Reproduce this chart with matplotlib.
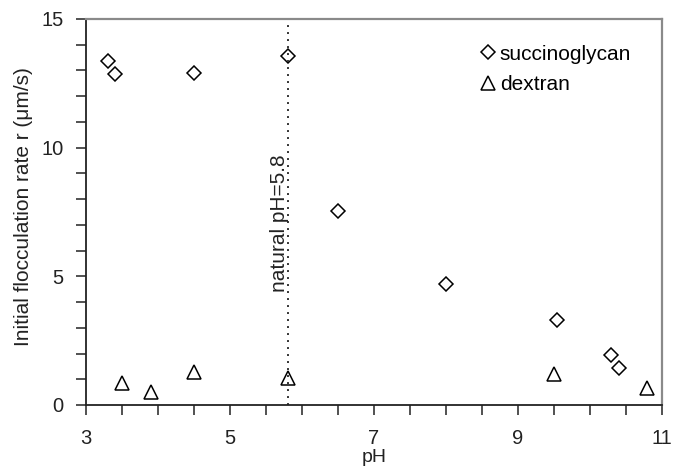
import matplotlib
matplotlib.use('Agg')
import matplotlib.pyplot as plt
from matplotlib.ticker import FixedLocator, MultipleLocator

plt.rcParams['font.family'] = ['Liberation Sans', 'DejaVu Sans']

# succinoglycan (diamonds)
ph_succ = [3.3, 3.4, 4.5, 5.8, 6.5, 8.0, 9.55, 10.3, 10.4]
r_succ = [13.35, 12.85, 12.9, 13.55, 7.55, 4.7, 3.3, 1.95, 1.45]

# dextran (triangles)
ph_dex = [3.5, 3.9, 4.5, 5.8, 9.5, 10.8]
r_dex = [0.85, 0.52, 1.3, 1.06, 1.19, 0.65]

natural_ph = 5.8
x_ticks = [3, 5, 7, 9, 11]
y_ticks = [0, 5, 10, 15]

fig, ax = plt.subplots(figsize=(6.74, 4.70), dpi=100)
fig.subplots_adjust(left=0.1276, right=0.982, top=0.9596, bottom=0.1383)

ax.plot(ph_succ, r_succ, linestyle='none', marker='D', markersize=7,
        markerfacecolor='white', markeredgecolor='black', markeredgewidth=1.1,
        label='succinoglycan', clip_on=False)
ax.plot(ph_dex, r_dex, linestyle='none', marker='^', markersize=10,
        markerfacecolor='white', markeredgecolor='black', markeredgewidth=1.1,
        label='dextran', clip_on=False)

ax.axvline(natural_ph, color='#333333', linestyle=(0, (1, 2.6)), linewidth=1.4)
ax.text(natural_ph - 0.035, 7.05, 'natural pH=5.8', rotation=90,
        rotation_mode='anchor', ha='center', va='baseline', fontsize=15,
        color='#222222')

ax.set_xlim(3, 11)
ax.set_ylim(0, 15)
ax.xaxis.set_major_locator(FixedLocator(x_ticks))
ax.xaxis.set_minor_locator(MultipleLocator(0.5))
ax.yaxis.set_major_locator(FixedLocator(y_ticks))
ax.yaxis.set_minor_locator(MultipleLocator(1))
ax.tick_params(which='both', direction='out', length=7, width=1.1,
               labelsize=14.5, colors='#222222')
ax.tick_params(axis='x', which='major', pad=10)
ax.tick_params(axis='y', which='major', pad=9)
ax.tick_params(top=False, right=False, which='both')

for side in ['left', 'bottom']:
    ax.spines[side].set_linewidth(1.3)
    ax.spines[side].set_color('#222222')
for side in ['top', 'right']:
    ax.spines[side].set_linewidth(1.6)
    ax.spines[side].set_color('#8a8a8a')

ax.set_xlabel('pH', fontsize=14, color='#222222')
ax.set_ylabel('Initial flocculation rate r (\u03bcm/s)', fontsize=15,
              color='#222222')
ax.xaxis.set_label_coords(0.5, -0.1135)
ax.yaxis.set_label_coords(-0.092, 0.515)

ax.legend(loc='upper left', frameon=False, fontsize=15, handletextpad=0.1,
          handlelength=0.9, borderaxespad=0.0, labelspacing=0.55,
          bbox_to_anchor=(0.668, 0.955))

fig.savefig('out.png', dpi=100)
